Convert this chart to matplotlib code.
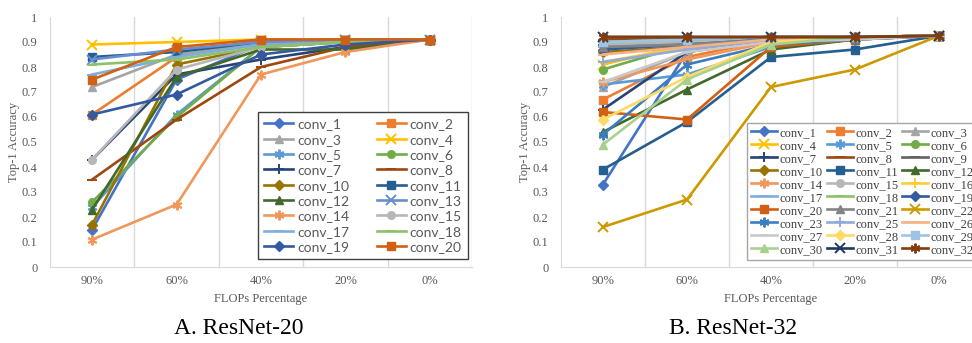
import matplotlib.pyplot as plt
import numpy as np

flops = ['90%', '60%', '40%', '20%', '0%']

# ResNet-20: pruned layer ids and top-1 accuracy at each FLOPs level
r20_layers = [1, 2, 3, 4, 5, 6, 7, 8, 10, 11, 12, 13, 14, 15, 17, 18, 19, 20]
r20_acc = [
    [0.15, 0.75, 0.89, 0.90, 0.91],
    [0.61, 0.84, 0.91, 0.91, 0.91],
    [0.72, 0.85, 0.89, 0.90, 0.91],
    [0.89, 0.90, 0.91, 0.91, 0.91],
    [0.24, 0.61, 0.88, 0.90, 0.91],
    [0.26, 0.60, 0.88, 0.90, 0.91],
    [0.43, 0.77, 0.83, 0.88, 0.91],
    [0.35, 0.59, 0.80, 0.88, 0.91],
    [0.17, 0.81, 0.88, 0.90, 0.91],
    [0.84, 0.86, 0.90, 0.91, 0.91],
    [0.23, 0.76, 0.87, 0.87, 0.91],
    [0.83, 0.87, 0.90, 0.91, 0.91],
    [0.11, 0.25, 0.77, 0.86, 0.91],
    [0.43, 0.79, 0.88, 0.90, 0.91],
    [0.77, 0.84, 0.89, 0.90, 0.91],
    [0.81, 0.83, 0.88, 0.90, 0.91],
    [0.61, 0.69, 0.85, 0.89, 0.91],
    [0.75, 0.88, 0.91, 0.91, 0.91],
]

# ResNet-32
r32_layers = [1, 2, 3, 4, 5, 6, 7, 8, 9, 10, 11, 12, 14, 15, 16, 17,
              18, 19, 20, 21, 22, 23, 25, 26, 27, 28, 29, 30, 31, 32]
r32_acc = [
    [0.33, 0.86, 0.91, 0.92, 0.925],
    [0.67, 0.84, 0.91, 0.92, 0.925],
    [0.72, 0.86, 0.91, 0.92, 0.925],
    [0.81, 0.89, 0.91, 0.92, 0.925],
    [0.73, 0.77, 0.88, 0.91, 0.925],
    [0.79, 0.89, 0.91, 0.92, 0.925],
    [0.63, 0.86, 0.91, 0.92, 0.925],
    [0.91, 0.91, 0.92, 0.92, 0.925],
    [0.89, 0.89, 0.91, 0.92, 0.925],
    [0.86, 0.88, 0.91, 0.92, 0.925],
    [0.39, 0.58, 0.84, 0.87, 0.925],
    [0.54, 0.71, 0.87, 0.91, 0.925],
    [0.74, 0.83, 0.90, 0.92, 0.925],
    [0.89, 0.90, 0.91, 0.92, 0.925],
    [0.82, 0.88, 0.91, 0.92, 0.925],
    [0.88, 0.89, 0.91, 0.92, 0.925],
    [0.90, 0.91, 0.92, 0.92, 0.925],
    [0.87, 0.89, 0.91, 0.92, 0.925],
    [0.62, 0.59, 0.88, 0.91, 0.925],
    [0.88, 0.89, 0.91, 0.92, 0.925],
    [0.16, 0.27, 0.72, 0.79, 0.925],
    [0.53, 0.81, 0.89, 0.91, 0.925],
    [0.82, 0.87, 0.91, 0.92, 0.925],
    [0.85, 0.88, 0.91, 0.92, 0.925],
    [0.74, 0.86, 0.90, 0.91, 0.925],
    [0.59, 0.76, 0.90, 0.92, 0.925],
    [0.90, 0.91, 0.92, 0.92, 0.925],
    [0.49, 0.75, 0.89, 0.92, 0.925],
    [0.92, 0.92, 0.92, 0.92, 0.925],
    [0.92, 0.92, 0.92, 0.92, 0.925],
]

# office-style series colours, indexed by layer number - 1
colors = ['#4472C4', '#ED7D31', '#A5A5A5', '#FFC000', '#5B9BD5', '#70AD47',
          '#264478', '#9E480E', '#636363', '#997300', '#255E91', '#43682B',
          '#698ED0', '#F1975A', '#B7B7B7', '#FFCD33', '#7CAFDD', '#8CC168',
          '#335AA1', '#D26012', '#848484', '#CC9A00', '#3A7DC0', '#5A8A39',
          '#8FAADC', '#F4B183', '#C9C9C9', '#FFD966', '#9DC3E6', '#A9D18E',
          '#203864', '#843C0C']
markers = ['D', 's', '^', 'x', (6, 2, 0), 'o', '+', '_', '_']

serif = 'Liberation Serif'
grey = '#595959'

fig = plt.figure(figsize=(9.72, 3.43), dpi=100)
ax1 = fig.add_axes([50/972, 76/343, 422/972, 250/343])
ax2 = fig.add_axes([561/972, 76/343, 420/972, 250/343])


def draw(ax, layers, acc):
    x = np.arange(len(flops))
    for n, vals in zip(layers, acc):
        m = markers[(n - 1) % 9]
        thin = m in ('x', '+', '_') or isinstance(m, tuple)
        ax.plot(x, vals, color=colors[n - 1], lw=1.9, marker=m,
                ms=7 if thin else 5.5, mew=1.4 if thin else 1,
                label='conv_%d' % n)
    ax.set_xlim(-0.5, 4.5)
    ax.set_ylim(0, 1)
    ax.set_xticks(x)
    ax.set_xticklabels(flops)
    ax.set_yticks(np.arange(0, 1.01, 0.1))
    ax.set_yticklabels(['0'] + ['%.1f' % v for v in np.arange(0.1, 0.95, 0.1)] + ['1'])
    for g in np.arange(0.5, 4.6, 1):
        ax.axvline(g, color='#D9D9D9', lw=1, zorder=0)
    for s in ['top', 'right']:
        ax.spines[s].set_visible(False)
    for s in ['left', 'bottom']:
        ax.spines[s].set_color('#D9D9D9')
    ax.tick_params(length=0, labelsize=9, labelcolor=grey)
    ax.tick_params(axis='x', pad=6)
    ax.tick_params(axis='y', pad=9)
    for t in ax.get_xticklabels() + ax.get_yticklabels():
        t.set_fontfamily(serif)
    ax.set_xlabel('FLOPs Percentage', fontfamily=serif, fontsize=9, color=grey, labelpad=4)
    ax.set_ylabel('Top-1 Accuracy', fontfamily=serif, fontsize=9, color=grey, labelpad=1)


def row_major(ax, ncol):
    # legend fills row by row, matplotlib fills column by column
    h, l = ax.get_legend_handles_labels()
    idx = [i for j in range(ncol) for i in range(j, len(h), ncol)]
    return [h[i] for i in idx], [l[i] for i in idx]


draw(ax1, r20_layers, r20_acc)
draw(ax2, r32_layers, r32_acc)

h1, l1 = row_major(ax1, 2)
leg1 = ax1.legend(h1, l1, ncol=2, loc='upper left', bbox_to_anchor=(258/972, 1 - 112/343),
                  bbox_transform=fig.transFigure, borderaxespad=0,
                  prop={'family': 'Lato', 'size': 10}, labelcolor=grey,
                  handlelength=2.1, handletextpad=0.25, columnspacing=2.0,
                  labelspacing=0.24, borderpad=0.45, fancybox=False, framealpha=1)
leg1.get_frame().set_edgecolor('#404040')
leg1.get_frame().set_linewidth(1)

h2, l2 = row_major(ax2, 3)
leg2 = ax2.legend(h2, l2, ncol=3, loc='upper left', bbox_to_anchor=(747/972, 1 - 123/343),
                  bbox_transform=fig.transFigure, borderaxespad=0,
                  prop={'family': serif, 'size': 9}, labelcolor='#404040',
                  handlelength=2.1, handletextpad=0.2, columnspacing=0.3,
                  labelspacing=0.08, borderpad=0.3, fancybox=False, framealpha=1)
leg2.get_frame().set_edgecolor('#A6A6A6')
leg2.get_frame().set_linewidth(1)

fig.text(239/972, 1 - 328/343, 'A. ResNet-20', fontfamily=serif, fontsize=17,
         ha='center', va='center')
fig.text(733/972, 1 - 328/343, 'B. ResNet-32', fontfamily=serif, fontsize=17,
         ha='center', va='center')

fig.savefig('out.png', dpi=100)
